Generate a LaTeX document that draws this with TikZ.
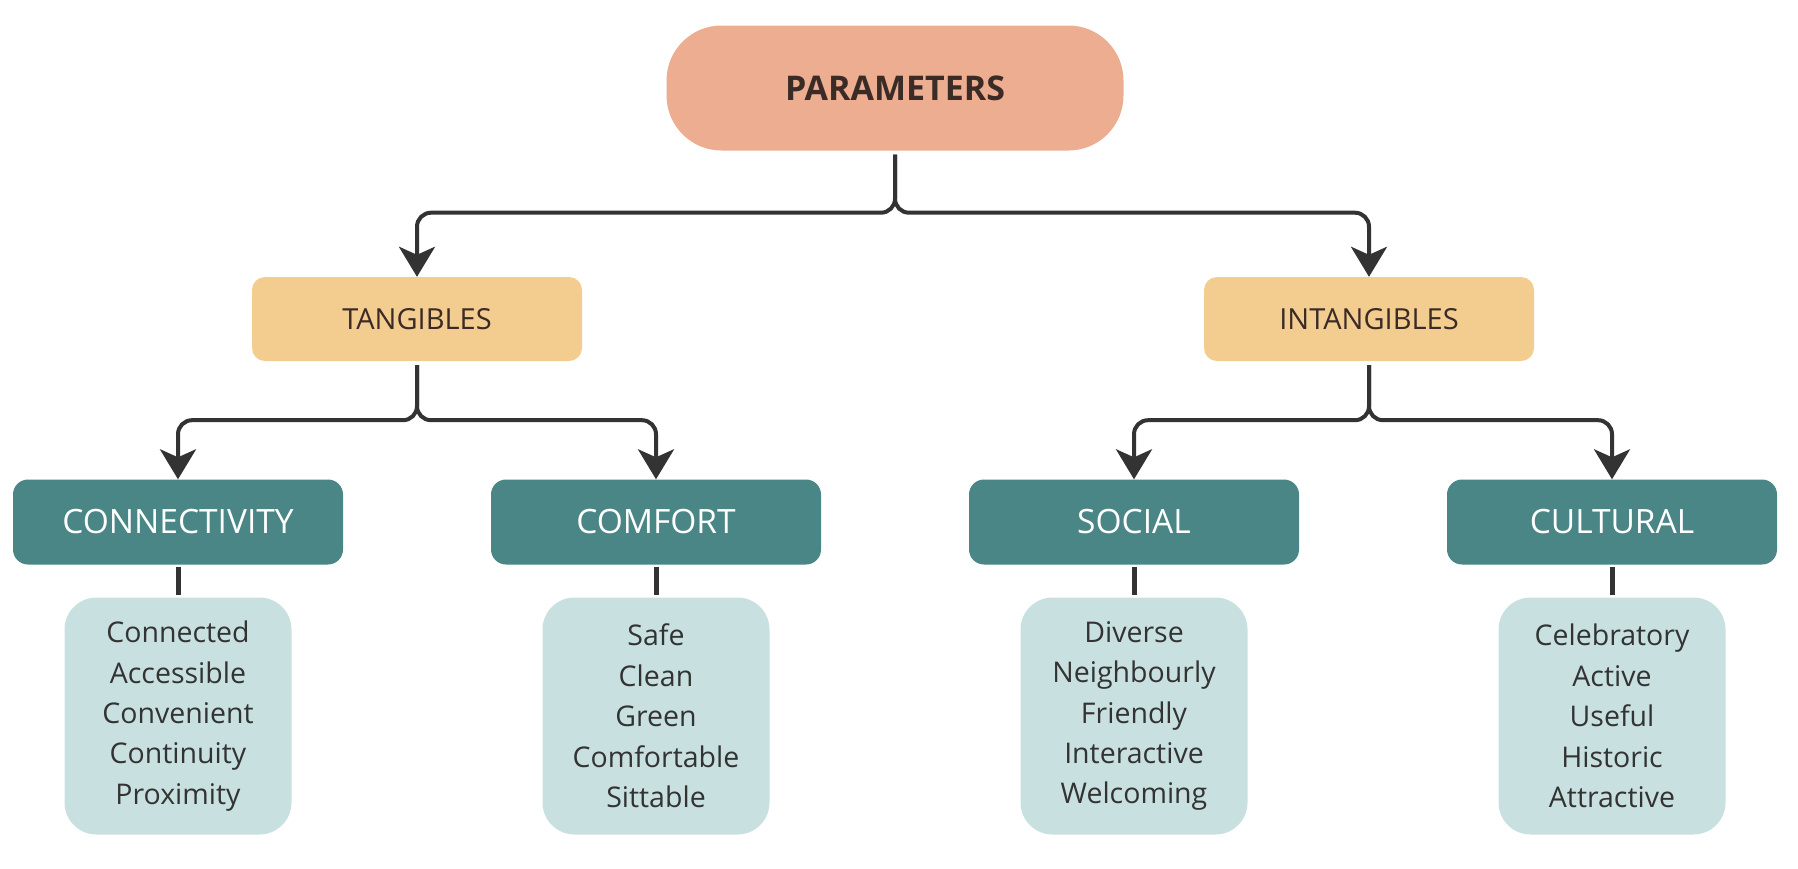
\documentclass[tikz,border=0pt]{standalone}
\usepackage{fontspec}
\setmainfont{Open Sans}
\usetikzlibrary{arrows.meta,positioning}
\definecolor{salmon}{HTML}{EDAD91}
\definecolor{sand}{HTML}{F3CC8F}
\definecolor{petrol}{HTML}{4A8686}
\definecolor{mist}{HTML}{C8E1E0}
\definecolor{ink}{HTML}{333333}
\definecolor{cocoa}{HTML}{3B2B26}
\begin{document}
\begin{tikzpicture}[x=1pt,y=1pt,node distance=203pt,
    box/.style={shape=rectangle, inner sep=0pt, text=ink},
    root/.style={box, fill=salmon, rounded corners=55pt, minimum width=457pt, minimum height=125pt, text=cocoa, font=\fontsize{34}{42}\selectfont\bfseries},
    group/.style={box, fill=sand, rounded corners=13pt, minimum width=330pt, minimum height=84pt, text=cocoa, font=\fontsize{29}{34}\selectfont},
    cat/.style={box, fill=petrol, rounded corners=15pt, minimum width=330pt, minimum height=85pt, text=white, font=\fontsize{33.5}{40}\selectfont},
    list/.style={box, fill=mist, rounded corners=32pt, minimum width=227pt, minimum height=237pt, align=center, font=\fontsize{28.5}{40.4}\selectfont},
    link/.style={draw=ink, line width=4pt, rounded corners=14pt, shorten <=4pt, -{Stealth[length=30pt,width=36pt,inset=8pt]}},
    stem/.style={draw=ink, line width=5pt, shorten <=2pt, shorten >=2pt}]
    \useasboundingbox (0,0) rectangle (1798,-868);

    \node[root] (par) at (895,-88) {PARAMETERS};
    \node[group] (tang) at (417,-319) {TANGIBLES};
    \node[group] (intang) at (1369,-319) {INTANGIBLES};

    \node[cat] (conn) [below of=tang, xshift=-239pt] {CONNECTIVITY};
    \node[cat] (comf) [below of=tang, xshift=239pt] {COMFORT};
    \node[cat] (soc) [below of=intang, xshift=-235pt] {SOCIAL};
    \node[cat] (cult) [below of=intang, xshift=243pt] {CULTURAL};

    \node[list, node distance=194pt, below of=conn] (conn list) {Connected\\Accessible\\Convenient\\Continuity\\Proximity};
    \node[list, node distance=194pt, below of=comf] (comf list) {Safe\\Clean\\Green\\Comfortable\\Sittable};
    \node[list, node distance=194pt, below of=soc] (soc list) {Diverse\\Neighbourly\\Friendly\\Interactive\\Welcoming};
    \node[list, node distance=194pt, below of=cult] (cult list) {Celebratory\\Active\\Useful\\Historic\\Attractive};

    \coordinate (par fork) at ([yshift=-62pt]par.south);
    \coordinate (tang fork) at ([yshift=-59pt]tang.south);
    \coordinate (intang fork) at ([yshift=-59pt]intang.south);

    \draw[link] (par) -- (par fork) -| (tang);
    \draw[link] (par) -- (par fork) -| (intang);
    \draw[link] (tang) -- (tang fork) -| (conn);
    \draw[link] (tang) -- (tang fork) -| (comf);
    \draw[link] (intang) -- (intang fork) -| (soc);
    \draw[link] (intang) -- (intang fork) -| (cult);

    \draw[stem] (conn) -- (conn list);
    \draw[stem] (comf) -- (comf list);
    \draw[stem] (soc) -- (soc list);
    \draw[stem] (cult) -- (cult list);
\end{tikzpicture}
\end{document}
